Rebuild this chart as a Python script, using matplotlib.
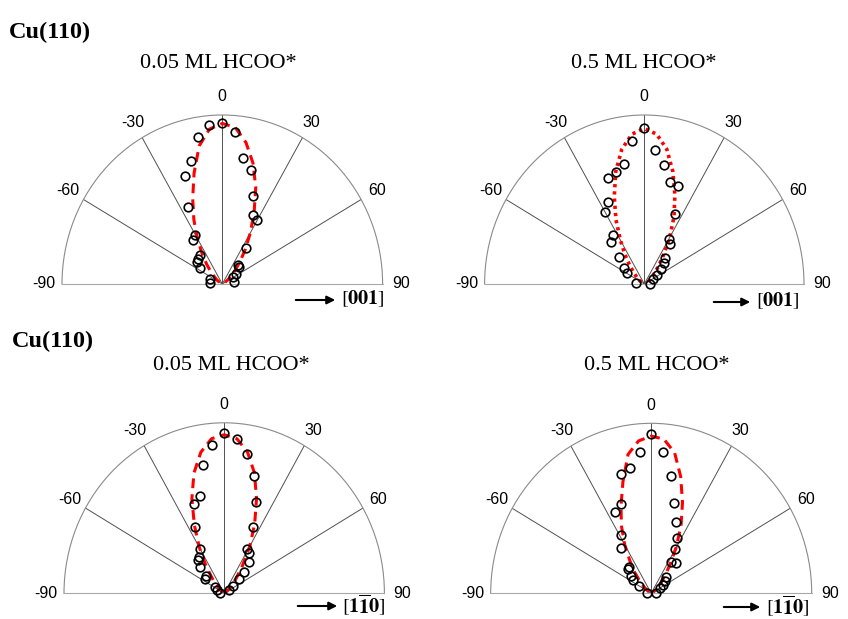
import numpy as np
import matplotlib
matplotlib.use("Agg")
import matplotlib.pyplot as plt

plt.rcParams["mathtext.fontset"] = "stix"

W, H = 848, 619

# ---- measured polar intensities (angle in degrees, normalised intensity) ----
# Cu(110), 0.05 ML HCOO*, along [001]
theta_a = [0, -5, -10, 5, -15, -20, 10, 15, -25, 20, 25, 30, -30, -35, 35,
           -40, -46, -50, -55, 42, 45, 56, 59, 79, -70, -84]
r_a = [0.951, 0.944, 0.881, 0.901, 0.755, 0.681, 0.758, 0.700, 0.504, 0.553,
       0.450, 0.435, 0.338, 0.321, 0.260, 0.221, 0.212, 0.205, 0.168, 0.150,
       0.146, 0.105, 0.075, 0.072, 0.080, 0.079]

# Cu(110), 0.5 ML HCOO*, along [001]
theta_b = [0, -5, 5, -10, 10, -15, -20, 15, 20, -25, -30, 25, -34, -40, 30,
           35, -45, 40, 45, -54, -60, 50, 56, 62, -81, 87]
r_b = [0.925, 0.851, 0.796, 0.723, 0.714, 0.689, 0.670, 0.627, 0.614, 0.538,
       0.495, 0.455, 0.350, 0.321, 0.305, 0.286, 0.222, 0.199, 0.172, 0.159,
       0.126, 0.136, 0.095, 0.059, 0.053, 0.038]

# Cu(110), 0.05 ML HCOO*, along [1-10]
theta_c = [0, 5, -5, 10, -10, 15, -15, -20, 20, -25, 25, -30, 29, 34, -36,
           -40, -45, 40, 45, -49, -54, 48, 53, -56, -67, -82, 57]
r_c = [0.938, 0.911, 0.872, 0.829, 0.764, 0.714, 0.592, 0.558, 0.572, 0.430,
       0.431, 0.303, 0.299, 0.282, 0.265, 0.255, 0.215, 0.238, 0.178, 0.151,
       0.146, 0.121, 0.071, 0.070, 0.052, 0.027, 0.037]

# Cu(110), 0.5 ML HCOO*, along [1-10]
theta_d = [0, -5, 5, -10, -15, 10, -20, -25, 15, 20, -29, 26, -35, 30, 34,
           41, -41, -46, -50, -55, -61, 44, 52, 57, 62, -83, 85]
r_d = [0.937, 0.834, 0.834, 0.746, 0.724, 0.703, 0.558, 0.528, 0.548, 0.448,
       0.391, 0.365, 0.325, 0.300, 0.224, 0.238, 0.207, 0.203, 0.162, 0.137,
       0.088, 0.137, 0.113, 0.089, 0.061, 0.025, 0.033]

# ---- fitted angular distributions ----
fit_theta = [-60, -55, -50, -45, -40, -35, -30, -25, -20, -15, -10, -5, 0,
             5, 10, 15, 20, 25, 30, 35, 40, 45, 50, 55, 60]
fit_a = [0.02, 0.04, 0.06, 0.10, 0.15, 0.22, 0.31, 0.42, 0.54, 0.68, 0.83, 0.92,
         0.95, 0.93, 0.85, 0.74, 0.61, 0.47, 0.35, 0.25, 0.17, 0.11, 0.07, 0.04, 0.02]
fit_b = [0.02, 0.04, 0.06, 0.09, 0.14, 0.21, 0.30, 0.42, 0.55, 0.69, 0.81, 0.89,
         0.92, 0.89, 0.81, 0.69, 0.56, 0.44, 0.32, 0.21, 0.14, 0.09, 0.06, 0.04, 0.02]
fit_c = [0.01, 0.02, 0.04, 0.07, 0.12, 0.20, 0.31, 0.44, 0.59, 0.73, 0.84, 0.91,
         0.93, 0.91, 0.84, 0.73, 0.59, 0.45, 0.32, 0.20, 0.12, 0.07, 0.04, 0.02, 0.01]
fit_d = [0.015, 0.03, 0.06, 0.10, 0.16, 0.23, 0.33, 0.44, 0.55, 0.68, 0.83, 0.90,
         0.925, 0.91, 0.84, 0.71, 0.57, 0.44, 0.31, 0.20, 0.13, 0.08, 0.05, 0.03, 0.015]

tick_angles = [-90, -60, -30, 0, 30, 60, 90]
tick_labels = ["-90", "-60", "-30", "0", "30", "60", "90"]
titles = ["0.05 ML HCOO*", "0.5 ML HCOO*", "0.05 ML HCOO*", "0.5 ML HCOO*"]
directions = [r"$[\mathbf{001}]$", r"$[\mathbf{001}]$",
              r"$[\mathbf{1}\overline{\mathbf{1}}\mathbf{0}]$",
              r"$[\mathbf{1}\overline{\mathbf{1}}\mathbf{0}]$"]

fig = plt.figure(figsize=(W / 100, H / 100), dpi=100)


def fx(x):
    return x / W


def fy(y):
    return 1 - y / H


def polar_panel(cx, cy, rh, rv):
    # half-disk occupies the middle half of the polar axes box
    ax = fig.add_axes([(cx - rh) / W, (H - cy - 0.5 * rv) / H, 2 * rh / W, 2 * rv / H],
                      projection="polar")
    ax.set_theta_zero_location("N")
    ax.set_theta_direction(-1)
    ax.set_thetamin(-90)
    ax.set_thetamax(90)
    ax.set_aspect("auto")
    ax.set_ylim(0, 1)
    ax.set_yticks([])
    ax.set_xticks(np.deg2rad(tick_angles))
    ax.set_xticklabels(tick_labels, fontfamily="Liberation Sans", fontsize=11.5)
    ax.set_xticks(np.deg2rad(np.arange(-90, 91, 7.5)), minor=True)
    ax.tick_params(axis="x", which="both", direction="in", length=2.5,
                   color="#909090", width=0.6, pad=6)
    ax.grid(True, axis="x", color="#505050", lw=0.7)
    ax.spines["polar"].set_color("#8a8a8a")
    ax.spines["polar"].set_linewidth(0.8)
    for s in ("start", "end"):
        ax.spines[s].set_color("#a8a8a8")
        ax.spines[s].set_linewidth(0.8)
    ax.patch.set_facecolor("white")
    return ax


panels = [
    (222.3, 284.0, 160.3, 169.0, theta_a, r_a, fit_a, (0, (3.2, 2.0)), 2.2),
    (644.3, 284.0, 159.7, 169.0, theta_b, r_b, fit_b, (0, (0.9, 1.1)), 2.6),
    (224.2, 593.3, 160.2, 170.5, theta_c, r_c, fit_c, (0, (3.2, 2.0)), 2.2),
    (651.2, 593.3, 160.5, 170.0, theta_d, r_d, fit_d, (0, (3.2, 2.0)), 2.2),
]

title_pos = [(218, 64), (644, 63), (231, 365), (657, 365)]
arrow_pos = [(293, 338, 300, 341), (711, 753, 302, 756),
             (295, 340, 606, 342), (721, 763, 607, 766)]

for i, (cx, cy, rh, rv, th, rr, fit, ls, lw) in enumerate(panels):
    ax = polar_panel(cx, cy, rh, rv)
    ax.plot(np.deg2rad(fit_theta), fit, color="#ff0000", lw=lw, ls=ls, zorder=3)
    ax.plot(np.deg2rad(th), rr, ls="none", marker="o", ms=6.2, mfc="none",
            mec="black", mew=1.2, zorder=4, clip_on=False)

    tx, ty = title_pos[i]
    fig.text(fx(tx), fy(ty), titles[i], fontfamily="Liberation Serif",
             fontsize=16, ha="center", va="center")

    x1, x2, ay, lx = arrow_pos[i]
    fig.patches.append(matplotlib.patches.FancyArrowPatch(
        (fx(x1), fy(ay)), (fx(x2), fy(ay)), transform=fig.transFigure,
        arrowstyle="-|>", mutation_scale=12, lw=1.5, color="black"))
    fig.text(fx(lx), fy(ay - 1), directions[i], fontsize=14.5, ha="left", va="center")

fig.text(fx(9), fy(32), "Cu(110)", fontfamily="Liberation Serif",
         fontweight="bold", fontsize=17.5, ha="left", va="center")
fig.text(fx(12), fy(341), "Cu(110)", fontfamily="Liberation Serif",
         fontweight="bold", fontsize=17.5, ha="left", va="center")

fig.savefig("out.png", dpi=100)
